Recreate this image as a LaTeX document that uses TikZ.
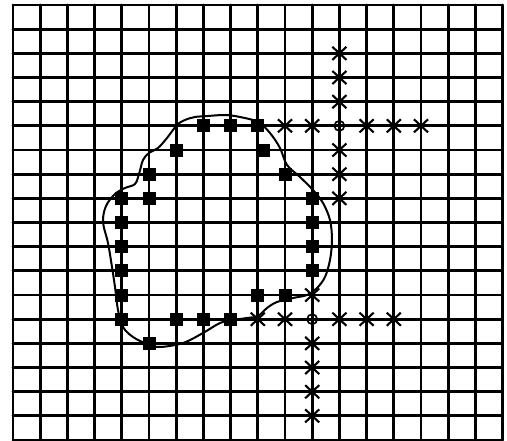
\documentclass[tikz,border=0pt]{standalone}
\usetikzlibrary{shapes.misc}
\tikzset{
  gridline/.style={line width=2.8pt, line cap=round},
  sqm/.style={rectangle, fill=black, draw=none, minimum size=13pt, inner sep=0pt},
  xm/.style={cross out, draw=black, line width=2.1pt, minimum width=12pt, minimum height=11pt, inner sep=0pt},
  om/.style={circle, draw=black, line width=1.7pt, minimum size=10pt, inner sep=0pt},
  contour/.style={line width=2pt, line join=round}
}
\begin{document}
\begin{tikzpicture}[x=1pt,y=-1pt]
\useasboundingbox (0,0) rectangle (507,441);
\fill[white] (0,0) rectangle (507,441);
\begin{scope}[shift={(13,5)}, x=27.2pt, y=-24.17pt]
  \foreach \i in {0,...,18} {
    \draw[gridline] (\i,0) -- (\i,18);
    \draw[gridline] (0,\i) -- (18,\i);
  }
\end{scope}
% contour
\draw[contour] plot[smooth cycle, tension=0.55] coordinates {
 (225,115) (240,117) (258,122) (270,133) (280,148) (287,165) (300,177) (313,190)
 (323,203) (330,220) (332,240) (330,260) (325,277) (317,288) (307,295) (293,298)
 (277,302) (267,308) (258,316) (247,318) (233,320) (220,323) (203,333) (183,343)
 (160,347) (147,344) (133,337) (123,327) (118,310) (115,287) (112,267) (108,243)
 (103,222) (106,206) (115,194) (125,188) (135,184) (139,174) (143,160) (149,153)
 (158,148) (167,138) (177,125) (185,120) (195,117) (208,116)};
\begin{scope}[shift={(13,5)}, x=27.2pt, y=-24.17pt]
  % squares
  \foreach \a/\b [count=\k] in {7/5,8/5,9/5,9.2/6,10/7,11/8,11/9,11/10,11/11,10/12,9/12,
      8/13,7/13,6/13,5/14,4/13,4/12,4/11,4/10,4/9,4/8,5/8,5/7,6/6}
    \node[sqm] (s\k) at (\a,\b) {};
  % upper cross pattern
  \node[om] (c1) at (12,5) {};
  \foreach \a/\b [count=\k] in {12/2,12/3,12/4,12/6,12/7,12/8,10/5,11/5,13/5,14/5,15/5}
    \node[xm] (u\k) at (\a,\b) {};
  % lower cross pattern
  \node[om] (c2) at (11,13) {};
  \foreach \a/\b [count=\k] in {11/12,11/14,11/15,11/16,11/17,9/13,10/13,12/13,13/13,14/13}
    \node[xm] (l\k) at (\a,\b) {};
\end{scope}
\end{tikzpicture}
\end{document}
